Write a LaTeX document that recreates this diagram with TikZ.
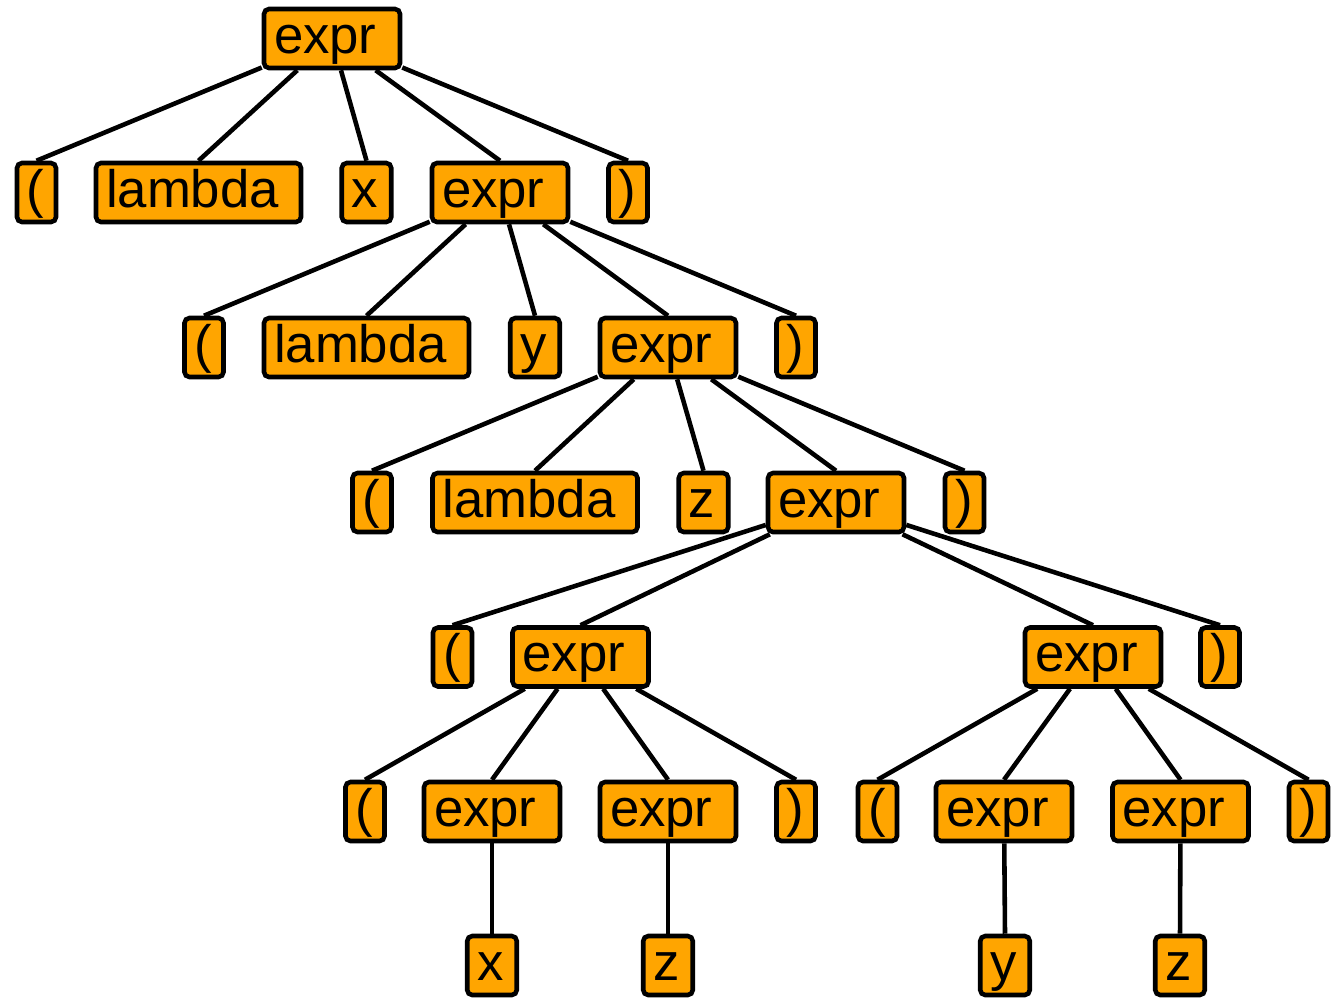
\documentclass[tikz,border=0pt]{standalone}
\usepackage{fontspec}
\setmainfont{Liberation Sans}
\definecolor{knoten}{RGB}{255,165,0}
\tikzset{
	tok/.style={draw, fill=knoten, line width=2.6pt, rounded corners=0.1cm,
		inner xsep=0.2cm, inner ysep=0.1cm, text height=0.78cm, text depth=0.2cm,
		align=left, font=\fontsize{30}{36}\selectfont},
	exprbox/.style={tok, text width=2.32cm},
	lambox/.style={tok, text width=3.7cm},
	varbox/.style={tok, text width=0.59cm},
	klbox/.style={tok, text width=0.38cm}
}
\begin{document}
\begin{tikzpicture}
\useasboundingbox (0,0) rectangle (26.68,-19.96);

%Wurzel
\node[exprbox] (e0) at (6.64,-0.77) {expr};

%Ebene 1
\node[klbox]   (k1a)  at (0.73,-3.85) {(};
\node[lambox]  (lam1) at (3.97,-3.85) {lambda};
\node[varbox]  (x1)   at (7.33,-3.85) {x};
\node[exprbox] (e1)   at (10.00,-3.85) {expr};
\node[klbox]   (k1b)  at (12.56,-3.85) {)};

%Ebene 2
\node[klbox]   (k2a)  at (4.08,-6.95) {(};
\node[lambox]  (lam2) at (7.33,-6.95) {lambda};
\node[varbox]  (y2)   at (10.70,-6.95) {y};
\node[exprbox] (e2)   at (13.36,-6.95) {expr};
\node[klbox]   (k2b)  at (15.92,-6.95) {)};

%Ebene 3
\node[klbox]   (k3a)  at (7.44,-10.05) {(};
\node[lambox]  (lam3) at (10.70,-10.05) {lambda};
\node[varbox]  (z3)   at (14.07,-10.05) {z};
\node[exprbox] (e3)   at (16.72,-10.05) {expr};
\node[klbox]   (k3b)  at (19.29,-10.05) {)};

%Ebene 4
\node[klbox]   (k4a)  at (9.05,-13.14) {(};
\node[exprbox] (e4a)  at (11.61,-13.14) {expr};
\node[exprbox] (e4b)  at (21.86,-13.14) {expr};
\node[klbox]   (k4b)  at (24.40,-13.14) {)};

%Ebene 5
\node[klbox]   (k5a)  at (7.30,-16.23) {(};
\node[exprbox] (e5a)  at (9.84,-16.23) {expr};
\node[exprbox] (e5b)  at (13.36,-16.23) {expr};
\node[klbox]   (k5b)  at (15.92,-16.23) {)};
\node[klbox]   (k5c)  at (17.55,-16.23) {(};
\node[exprbox] (e5c)  at (20.08,-16.23) {expr};
\node[exprbox] (e5d)  at (23.61,-16.23) {expr};
\node[klbox]   (k5d)  at (26.17,-16.23) {)};

%Blaetter
\node[varbox]  (x6)   at (9.84,-19.31) {x};
\node[varbox]  (z6a)  at (13.36,-19.31) {z};
\node[varbox]  (y6)   at (20.10,-19.31) {y};
\node[varbox]  (z6b)  at (23.60,-19.31) {z};

%Kanten: vom Elternknoten zur Oberkante des Kindes
\foreach \a/\b in
{
e0/k1a, e0/lam1, e0/x1, e0/e1, e0/k1b,
e1/k2a, e1/lam2, e1/y2, e1/e2, e1/k2b,
e2/k3a, e2/lam3, e2/z3, e2/e3, e2/k3b,
e3/k4a, e3/e4a, e3/e4b, e3/k4b,
e4a/k5a, e4a/e5a, e4a/e5b, e4a/k5b,
e4b/k5c, e4b/e5c, e4b/e5d, e4b/k5d,
e5a/x6, e5b/z6a, e5c/y6, e5d/z6b}
{
	\draw[line width=2.6pt] (\a) -- (\b.north);
}

\end{tikzpicture}
\end{document}
